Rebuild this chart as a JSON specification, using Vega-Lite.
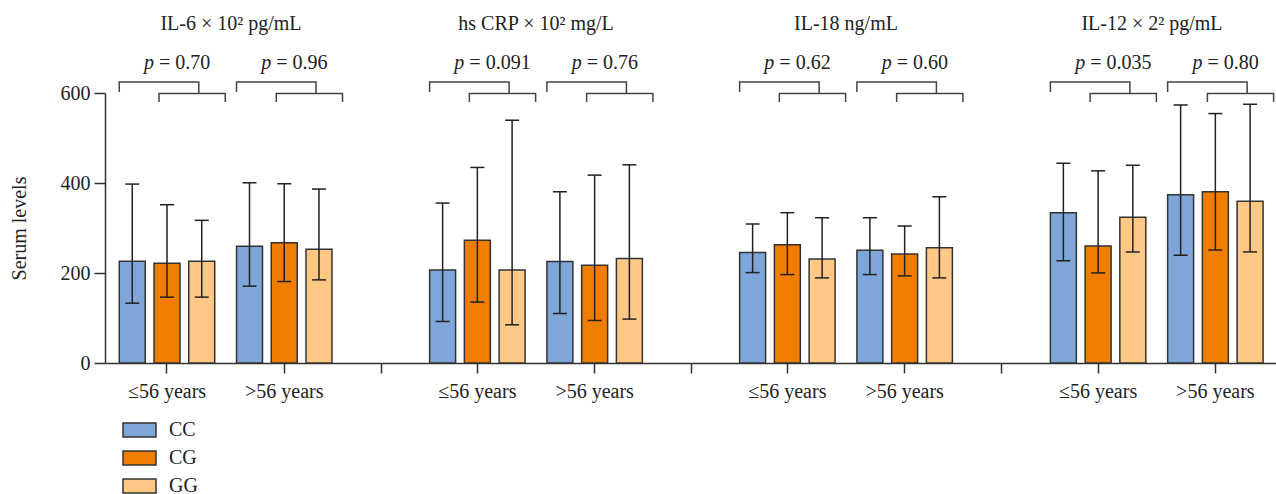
{
  "$schema": "https://vega.github.io/schema/vega-lite/v6.json",
  "background": "white",
  "padding": {"left": 9, "top": 14, "right": 0, "bottom": 0},
  "config": {
    "font": "Liberation Serif",
    "view": {"stroke": null},
    "axis": {"grid": false},
    "concat": {"spacing": 0}
  },
  "bounds": "flush",
  "spacing": 0,
  "datasets": {
    "bars": [
      {"panel": "IL6", "age": "≤56 years", "genotype": "CC", "mean": 226, "lo": 133, "hi": 397.6},
      {"panel": "IL6", "age": "≤56 years", "genotype": "CG", "mean": 221.7, "lo": 146.3, "hi": 351.7},
      {"panel": "IL6", "age": "≤56 years", "genotype": "GG", "mean": 226, "lo": 146.3, "hi": 317},
      {"panel": "IL6", "age": ">56 years", "genotype": "CC", "mean": 259.4, "lo": 170.7, "hi": 400.5},
      {"panel": "IL6", "age": ">56 years", "genotype": "CG", "mean": 267.5, "lo": 181, "hi": 398.3},
      {"panel": "IL6", "age": ">56 years", "genotype": "GG", "mean": 252.8, "lo": 184.7, "hi": 386.5},
      {"panel": "CRP", "age": "≤56 years", "genotype": "CC", "mean": 206.9, "lo": 92.3, "hi": 355.4},
      {"panel": "CRP", "age": "≤56 years", "genotype": "CG", "mean": 272.7, "lo": 135.3, "hi": 434.6},
      {"panel": "CRP", "age": "≤56 years", "genotype": "GG", "mean": 206.9, "lo": 84.9, "hi": 539.5},
      {"panel": "CRP", "age": ">56 years", "genotype": "CC", "mean": 225.3, "lo": 110, "hi": 380.5},
      {"panel": "CRP", "age": ">56 years", "genotype": "CG", "mean": 217.3, "lo": 94.5, "hi": 417.5},
      {"panel": "CRP", "age": ">56 years", "genotype": "GG", "mean": 232, "lo": 97.6, "hi": 440.4},
      {"panel": "IL18", "age": "≤56 years", "genotype": "CC", "mean": 245.3, "lo": 200.9, "hi": 308.9},
      {"panel": "IL18", "age": "≤56 years", "genotype": "CG", "mean": 263, "lo": 196.5, "hi": 334},
      {"panel": "IL18", "age": "≤56 years", "genotype": "GG", "mean": 231.3, "lo": 189.1, "hi": 322.8},
      {"panel": "IL18", "age": ">56 years", "genotype": "CC", "mean": 250.5, "lo": 196.5, "hi": 322.8},
      {"panel": "IL18", "age": ">56 years", "genotype": "CG", "mean": 242.4, "lo": 193.6, "hi": 304.4},
      {"panel": "IL18", "age": ">56 years", "genotype": "GG", "mean": 256.3, "lo": 189.1, "hi": 369.4},
      {"panel": "IL12", "age": "≤56 years", "genotype": "CC", "mean": 334, "lo": 227.5, "hi": 444.1},
      {"panel": "IL12", "age": "≤56 years", "genotype": "CG", "mean": 260, "lo": 200.2, "hi": 427},
      {"panel": "IL12", "age": "≤56 years", "genotype": "GG", "mean": 323.7, "lo": 246.8, "hi": 439.7},
      {"panel": "IL12", "age": ">56 years", "genotype": "CC", "mean": 373.8, "lo": 239.5, "hi": 573.4},
      {"panel": "IL12", "age": ">56 years", "genotype": "CG", "mean": 380.5, "lo": 251.2, "hi": 554.3},
      {"panel": "IL12", "age": ">56 years", "genotype": "GG", "mean": 359.2, "lo": 246.8, "hi": 575}
    ],
    "pvals": [
      {"panel": "IL6", "age": "≤56 years", "ptxt": "= 0.70"},
      {"panel": "IL6", "age": ">56 years", "ptxt": "= 0.96"},
      {"panel": "CRP", "age": "≤56 years", "ptxt": "= 0.091"},
      {"panel": "CRP", "age": ">56 years", "ptxt": "= 0.76"},
      {"panel": "IL18", "age": "≤56 years", "ptxt": "= 0.62"},
      {"panel": "IL18", "age": ">56 years", "ptxt": "= 0.60"},
      {"panel": "IL12", "age": "≤56 years", "ptxt": "= 0.035"},
      {"panel": "IL12", "age": ">56 years", "ptxt": "= 0.80"}
    ],
    "brackets": [
      {"age": "≤56 years", "seg": "a1", "ord": 1, "slot": "s0", "v": 602},
      {"age": "≤56 years", "seg": "a1", "ord": 2, "slot": "s0", "v": 624.4},
      {"age": "≤56 years", "seg": "a1", "ord": 3, "slot": "s6", "v": 624.4},
      {"age": "≤56 years", "seg": "a1", "ord": 4, "slot": "s6", "v": 598.7},
      {"age": "≤56 years", "seg": "b1", "ord": 1, "slot": "s3", "v": 580},
      {"age": "≤56 years", "seg": "b1", "ord": 2, "slot": "s3", "v": 598.7},
      {"age": "≤56 years", "seg": "b1", "ord": 3, "slot": "s8", "v": 598.7},
      {"age": "≤56 years", "seg": "b1", "ord": 4, "slot": "s8", "v": 580},
      {"age": ">56 years", "seg": "a2", "ord": 1, "slot": "s0", "v": 602},
      {"age": ">56 years", "seg": "a2", "ord": 2, "slot": "s0", "v": 624.4},
      {"age": ">56 years", "seg": "a2", "ord": 3, "slot": "s6", "v": 624.4},
      {"age": ">56 years", "seg": "a2", "ord": 4, "slot": "s6", "v": 598.7},
      {"age": ">56 years", "seg": "b2", "ord": 1, "slot": "s3", "v": 580},
      {"age": ">56 years", "seg": "b2", "ord": 2, "slot": "s3", "v": 598.7},
      {"age": ">56 years", "seg": "b2", "ord": 3, "slot": "s8", "v": 598.7},
      {"age": ">56 years", "seg": "b2", "ord": 4, "slot": "s8", "v": 580}
    ]
  },
  "resolve": {"scale": {"color": "shared"}},
  "hconcat": [
    {
      "width": 276, "height": 270,
      "title": {"text": "IL-6 × 10² pg/mL", "frame": "group", "anchor": "middle", "dx": -12, "offset": 19, "fontSize": 20, "fontWeight": "normal", "color": "#222"},
      "encoding": {
        "y": {"type": "quantitative", "scale": {"domain": [0, 600], "nice": false},
          "axis": {"values": [0, 200, 400, 600], "title": "Serum levels", "titleFontSize": 20, "titleFontWeight": "normal", "titleColor": "#222", "titlePadding": 31, "labelFontSize": 20, "labelColor": "#222", "labelPadding": 4, "tickSize": 11, "tickWidth": 1.5, "tickColor": "#333", "domainColor": "#333", "domainWidth": 1.5}}
      },
      "layer": [
        {
          "data": {"name": "bars"},
          "transform": [{"filter": "datum.panel === 'IL6'"}],
          "encoding": {
            "x": {"field": "age", "type": "nominal", "sort": ["≤56 years", ">56 years"], "scale": {"domain": ["≤56 years", ">56 years"], "paddingInner": 0.186, "paddingOuter": 0.27, "align": 0.2255},
              "axis": {"title": null, "labelAngle": 0, "labelFontSize": 20, "labelColor": "#222", "labelPadding": 8, "tickSize": 10, "tickWidth": 1.5, "tickColor": "#333", "domainColor": "#333", "domainWidth": 1.5}},
            "xOffset": {"field": "genotype", "type": "nominal", "scale": {"domain": ["CC", "CG", "GG"], "paddingInner": 0.252, "paddingOuter": 0}}
          },
          "layer": [
            {"mark": {"type": "bar", "stroke": "#333", "strokeWidth": 1.5},
             "encoding": {
               "y": {"field": "mean"},
               "color": {"field": "genotype", "type": "nominal", "scale": {"domain": ["CC", "CG", "GG"], "range": ["#7FA6D9", "#F07C00", "#FFC985"]},
                 "legend": {"title": null, "orient": "none", "legendX": 17, "legendY": 329, "direction": "vertical", "symbolType": "M-1,-0.424H1V0.424H-1Z", "symbolSize": 1089, "symbolStrokeColor": "#333", "symbolStrokeWidth": 1.5, "symbolOpacity": 1, "labelFontSize": 20, "labelColor": "#222", "labelOffset": 12, "rowPadding": 8, "clipHeight": 16}}
             }},
            {"mark": {"type": "rule", "color": "#222", "strokeWidth": 1.5},
             "encoding": {"y": {"field": "lo"}, "y2": {"field": "hi"}}},
            {"mark": {"type": "tick", "color": "#222", "thickness": 1.5, "size": 14, "orient": "horizontal", "opacity": 1},
             "encoding": {"y": {"field": "hi"}}},
            {"mark": {"type": "tick", "color": "#222", "thickness": 1.5, "size": 14, "orient": "horizontal", "opacity": 1},
             "encoding": {"y": {"field": "lo"}}}
          ]
        },
        {
          "encoding": {
            "x": {"field": "age", "type": "nominal", "sort": ["≤56 years", ">56 years"], "axis": null},
            "xOffset": {"field": "slot", "type": "nominal", "scale": {"domain": ["s0", "s1", "s2", "s3", "s4", "s5", "s6", "s7", "s8"], "range": [0, 106], "paddingInner": 0, "paddingOuter": 0}}
          },
          "layer": [
            {"data": {"name": "brackets"},
             "mark": {"type": "line", "color": "#444", "strokeWidth": 1.5},
             "encoding": {"y": {"field": "v"}, "detail": {"field": "seg"}, "order": {"field": "ord"}}},
            {"data": {"name": "pvals"}, "transform": [{"filter": "datum.panel === 'IL6'"}],
             "mark": {"type": "text", "text": "p", "fontStyle": "italic", "align": "right", "baseline": "middle", "dx": -5, "fontSize": 20, "color": "#222"},
             "encoding": {"xOffset": {"datum": "s3"}, "y": {"datum": 666}}},
            {"data": {"name": "pvals"}, "transform": [{"filter": "datum.panel === 'IL6'"}],
             "mark": {"type": "text", "align": "left", "baseline": "middle", "fontSize": 20, "color": "#222"},
             "encoding": {"text": {"field": "ptxt"}, "xOffset": {"datum": "s3"}, "y": {"datum": 666}}}
          ]
        }
      ],
      "resolve": {"scale": {"xOffset": "independent"}, "axis": {"x": "independent"}}
    },
    {
      "width": 310, "height": 270,
      "title": {"text": "hs CRP × 10² mg/L", "frame": "group", "anchor": "middle", "dx": 0, "offset": 19, "fontSize": 20, "fontWeight": "normal", "color": "#222"},
      "encoding": {
        "y": {"type": "quantitative", "scale": {"domain": [0, 600], "nice": false}, "axis": null}
      },
      "layer": [
        {
          "data": {"name": "bars"},
          "transform": [{"filter": "datum.panel === 'CRP'"}],
          "encoding": {
            "x": {"field": "age", "type": "nominal", "sort": ["≤56 years", ">56 years"], "scale": {"domain": ["≤56 years", ">56 years"], "paddingInner": 0.186, "paddingOuter": 0.4145, "align": 0.5},
              "axis": {"title": null, "labelAngle": 0, "labelFontSize": 20, "labelColor": "#222", "labelPadding": 8, "tickSize": 10, "tickWidth": 1.5, "tickColor": "#333", "domainColor": "#333", "domainWidth": 1.5}},
            "xOffset": {"field": "genotype", "type": "nominal", "scale": {"domain": ["CC", "CG", "GG"], "paddingInner": 0.252, "paddingOuter": 0}}
          },
          "layer": [
            {"mark": {"type": "bar", "stroke": "#333", "strokeWidth": 1.5},
             "encoding": {
               "y": {"field": "mean"},
               "color": {"field": "genotype", "type": "nominal", "scale": {"domain": ["CC", "CG", "GG"], "range": ["#7FA6D9", "#F07C00", "#FFC985"]}}
             }},
            {"mark": {"type": "rule", "color": "#222", "strokeWidth": 1.5},
             "encoding": {"y": {"field": "lo"}, "y2": {"field": "hi"}}},
            {"mark": {"type": "tick", "color": "#222", "thickness": 1.5, "size": 14, "orient": "horizontal", "opacity": 1},
             "encoding": {"y": {"field": "hi"}}},
            {"mark": {"type": "tick", "color": "#222", "thickness": 1.5, "size": 14, "orient": "horizontal", "opacity": 1},
             "encoding": {"y": {"field": "lo"}}}
          ]
        },
        {
          "encoding": {
            "x": {"field": "age", "type": "nominal", "sort": ["≤56 years", ">56 years"], "axis": {"values": ["≤56 years"], "tickOffset": -96.5, "labels": false, "domain": false, "title": null, "orient": "bottom", "tickSize": 10, "tickWidth": 1.5, "tickColor": "#333"}},
            "xOffset": {"field": "slot", "type": "nominal", "scale": {"domain": ["s0", "s1", "s2", "s3", "s4", "s5", "s6", "s7", "s8"], "range": [0, 106], "paddingInner": 0, "paddingOuter": 0}}
          },
          "layer": [
            {"data": {"name": "brackets"},
             "mark": {"type": "line", "color": "#444", "strokeWidth": 1.5},
             "encoding": {"y": {"field": "v"}, "detail": {"field": "seg"}, "order": {"field": "ord"}}},
            {"data": {"name": "pvals"}, "transform": [{"filter": "datum.panel === 'CRP'"}],
             "mark": {"type": "text", "text": "p", "fontStyle": "italic", "align": "right", "baseline": "middle", "dx": -5, "fontSize": 20, "color": "#222"},
             "encoding": {"xOffset": {"datum": "s3"}, "y": {"datum": 666}}},
            {"data": {"name": "pvals"}, "transform": [{"filter": "datum.panel === 'CRP'"}],
             "mark": {"type": "text", "align": "left", "baseline": "middle", "fontSize": 20, "color": "#222"},
             "encoding": {"text": {"field": "ptxt"}, "xOffset": {"datum": "s3"}, "y": {"datum": 666}}}
          ]
        }
      ],
      "resolve": {"scale": {"xOffset": "independent"}, "axis": {"x": "independent"}}
    },
    {
      "width": 310, "height": 270,
      "title": {"text": "IL-18 ng/mL", "frame": "group", "anchor": "middle", "dx": 0, "offset": 19, "fontSize": 20, "fontWeight": "normal", "color": "#222"},
      "encoding": {
        "y": {"type": "quantitative", "scale": {"domain": [0, 600], "nice": false}, "axis": null}
      },
      "layer": [
        {
          "data": {"name": "bars"},
          "transform": [{"filter": "datum.panel === 'IL18'"}],
          "encoding": {
            "x": {"field": "age", "type": "nominal", "sort": ["≤56 years", ">56 years"], "scale": {"domain": ["≤56 years", ">56 years"], "paddingInner": 0.186, "paddingOuter": 0.4145, "align": 0.5},
              "axis": {"title": null, "labelAngle": 0, "labelFontSize": 20, "labelColor": "#222", "labelPadding": 8, "tickSize": 10, "tickWidth": 1.5, "tickColor": "#333", "domainColor": "#333", "domainWidth": 1.5}},
            "xOffset": {"field": "genotype", "type": "nominal", "scale": {"domain": ["CC", "CG", "GG"], "paddingInner": 0.252, "paddingOuter": 0}}
          },
          "layer": [
            {"mark": {"type": "bar", "stroke": "#333", "strokeWidth": 1.5},
             "encoding": {
               "y": {"field": "mean"},
               "color": {"field": "genotype", "type": "nominal", "scale": {"domain": ["CC", "CG", "GG"], "range": ["#7FA6D9", "#F07C00", "#FFC985"]}}
             }},
            {"mark": {"type": "rule", "color": "#222", "strokeWidth": 1.5},
             "encoding": {"y": {"field": "lo"}, "y2": {"field": "hi"}}},
            {"mark": {"type": "tick", "color": "#222", "thickness": 1.5, "size": 14, "orient": "horizontal", "opacity": 1},
             "encoding": {"y": {"field": "hi"}}},
            {"mark": {"type": "tick", "color": "#222", "thickness": 1.5, "size": 14, "orient": "horizontal", "opacity": 1},
             "encoding": {"y": {"field": "lo"}}}
          ]
        },
        {
          "encoding": {
            "x": {"field": "age", "type": "nominal", "sort": ["≤56 years", ">56 years"], "axis": {"values": ["≤56 years"], "tickOffset": -96.5, "labels": false, "domain": false, "title": null, "orient": "bottom", "tickSize": 10, "tickWidth": 1.5, "tickColor": "#333"}},
            "xOffset": {"field": "slot", "type": "nominal", "scale": {"domain": ["s0", "s1", "s2", "s3", "s4", "s5", "s6", "s7", "s8"], "range": [0, 106], "paddingInner": 0, "paddingOuter": 0}}
          },
          "layer": [
            {"data": {"name": "brackets"},
             "mark": {"type": "line", "color": "#444", "strokeWidth": 1.5},
             "encoding": {"y": {"field": "v"}, "detail": {"field": "seg"}, "order": {"field": "ord"}}},
            {"data": {"name": "pvals"}, "transform": [{"filter": "datum.panel === 'IL18'"}],
             "mark": {"type": "text", "text": "p", "fontStyle": "italic", "align": "right", "baseline": "middle", "dx": -5, "fontSize": 20, "color": "#222"},
             "encoding": {"xOffset": {"datum": "s3"}, "y": {"datum": 666}}},
            {"data": {"name": "pvals"}, "transform": [{"filter": "datum.panel === 'IL18'"}],
             "mark": {"type": "text", "align": "left", "baseline": "middle", "fontSize": 20, "color": "#222"},
             "encoding": {"text": {"field": "ptxt"}, "xOffset": {"datum": "s3"}, "y": {"datum": 666}}}
          ]
        }
      ],
      "resolve": {"scale": {"xOffset": "independent"}, "axis": {"x": "independent"}}
    },
    {
      "width": 276, "height": 270,
      "title": {"text": "IL-12 × 2² pg/mL", "frame": "group", "anchor": "middle", "dx": 13, "offset": 19, "fontSize": 20, "fontWeight": "normal", "color": "#222"},
      "encoding": {
        "y": {"type": "quantitative", "scale": {"domain": [0, 600], "nice": false}, "axis": null}
      },
      "layer": [
        {
          "data": {"name": "bars"},
          "transform": [{"filter": "datum.panel === 'IL12'"}],
          "encoding": {
            "x": {"field": "age", "type": "nominal", "sort": ["≤56 years", ">56 years"], "scale": {"domain": ["≤56 years", ">56 years"], "paddingInner": 0.186, "paddingOuter": 0.27, "align": 0.78},
              "axis": {"title": null, "labelAngle": 0, "labelFontSize": 20, "labelColor": "#222", "labelPadding": 8, "tickSize": 10, "tickWidth": 1.5, "tickColor": "#333", "domainColor": "#333", "domainWidth": 1.5}},
            "xOffset": {"field": "genotype", "type": "nominal", "scale": {"domain": ["CC", "CG", "GG"], "paddingInner": 0.252, "paddingOuter": 0}}
          },
          "layer": [
            {"mark": {"type": "bar", "stroke": "#333", "strokeWidth": 1.5},
             "encoding": {
               "y": {"field": "mean"},
               "color": {"field": "genotype", "type": "nominal", "scale": {"domain": ["CC", "CG", "GG"], "range": ["#7FA6D9", "#F07C00", "#FFC985"]}}
             }},
            {"mark": {"type": "rule", "color": "#222", "strokeWidth": 1.5},
             "encoding": {"y": {"field": "lo"}, "y2": {"field": "hi"}}},
            {"mark": {"type": "tick", "color": "#222", "thickness": 1.5, "size": 14, "orient": "horizontal", "opacity": 1},
             "encoding": {"y": {"field": "hi"}}},
            {"mark": {"type": "tick", "color": "#222", "thickness": 1.5, "size": 14, "orient": "horizontal", "opacity": 1},
             "encoding": {"y": {"field": "lo"}}}
          ]
        },
        {
          "encoding": {
            "x": {"field": "age", "type": "nominal", "sort": ["≤56 years", ">56 years"], "axis": {"values": ["≤56 years"], "tickOffset": -97.2, "labels": false, "domain": false, "title": null, "orient": "bottom", "tickSize": 10, "tickWidth": 1.5, "tickColor": "#333"}},
            "xOffset": {"field": "slot", "type": "nominal", "scale": {"domain": ["s0", "s1", "s2", "s3", "s4", "s5", "s6", "s7", "s8"], "range": [0, 106], "paddingInner": 0, "paddingOuter": 0}}
          },
          "layer": [
            {"data": {"name": "brackets"},
             "mark": {"type": "line", "color": "#444", "strokeWidth": 1.5},
             "encoding": {"y": {"field": "v"}, "detail": {"field": "seg"}, "order": {"field": "ord"}}},
            {"data": {"name": "pvals"}, "transform": [{"filter": "datum.panel === 'IL12'"}],
             "mark": {"type": "text", "text": "p", "fontStyle": "italic", "align": "right", "baseline": "middle", "dx": -5, "fontSize": 20, "color": "#222"},
             "encoding": {"xOffset": {"datum": "s3"}, "y": {"datum": 666}}},
            {"data": {"name": "pvals"}, "transform": [{"filter": "datum.panel === 'IL12'"}],
             "mark": {"type": "text", "align": "left", "baseline": "middle", "fontSize": 20, "color": "#222"},
             "encoding": {"text": {"field": "ptxt"}, "xOffset": {"datum": "s3"}, "y": {"datum": 666}}}
          ]
        }
      ],
      "resolve": {"scale": {"xOffset": "independent"}, "axis": {"x": "independent"}}
    }
  ]
}
